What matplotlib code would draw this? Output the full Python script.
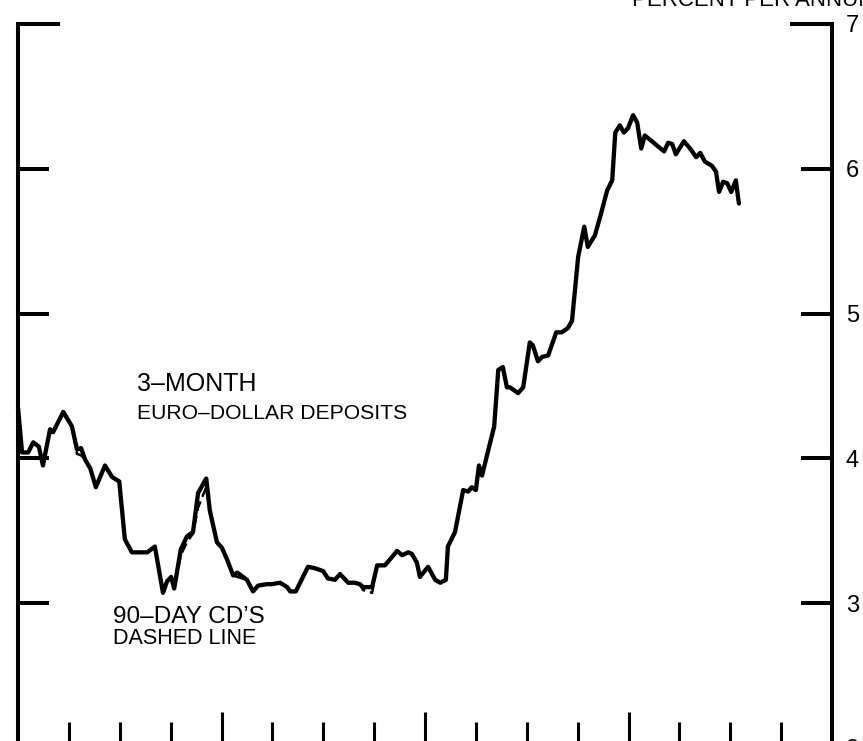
import matplotlib
matplotlib.use('Agg')
import matplotlib.pyplot as plt

plt.rcParams['font.family'] = ['Liberation Sans', 'DejaVu Sans']

# time in quarters since start of 1992 (0 = Jan 1992, 16 = Jan 1996)
euro_q = [0.00, 0.08, 0.20, 0.30, 0.41, 0.49, 0.63, 0.69, 0.89, 1.06, 1.16, 1.24, 1.32, 1.42,
          1.53, 1.71, 1.85, 1.99, 2.10, 2.24, 2.54, 2.69, 2.85, 2.93, 3.01, 3.07, 3.20, 3.32,
          3.44, 3.54, 3.70, 3.77, 3.91, 4.01, 4.11, 4.23, 4.31, 4.50, 4.62, 4.72, 4.89, 4.99,
          5.15, 5.29, 5.35, 5.46, 5.70, 5.84, 6.00, 6.09, 6.23, 6.33, 6.49, 6.62, 6.72, 6.78,
          6.96, 7.06, 7.21, 7.31, 7.45, 7.55, 7.67, 7.74, 7.84, 7.90, 8.06, 8.20, 8.30, 8.41,
          8.45, 8.59, 8.75, 8.85, 8.92, 9.00, 9.06, 9.12, 9.36, 9.44, 9.53, 9.61, 9.67, 9.83,
          9.93, 10.06, 10.12, 10.22, 10.30, 10.42, 10.58, 10.69, 10.81, 10.89, 11.01, 11.13,
          11.20, 11.34, 11.46, 11.58, 11.68, 11.74, 11.83, 11.91, 11.99, 12.09, 12.17, 12.25,
          12.32, 12.46, 12.56, 12.70, 12.78, 12.86, 12.93, 13.09, 13.21, 13.33, 13.41, 13.50,
          13.64, 13.72, 13.78, 13.86, 13.94, 14.02, 14.11, 14.17]
euro_v = [4.35, 4.04, 4.04, 4.11, 4.08, 3.95, 4.20, 4.18, 4.32, 4.22, 4.06, 4.07, 3.99, 3.93,
          3.80, 3.95, 3.87, 3.84, 3.44, 3.35, 3.35, 3.39, 3.07, 3.15, 3.18, 3.10, 3.37, 3.46,
          3.49, 3.76, 3.86, 3.64, 3.42, 3.38, 3.30, 3.19, 3.21, 3.16, 3.08, 3.12, 3.13, 3.13,
          3.14, 3.11, 3.08, 3.08, 3.25, 3.24, 3.22, 3.17, 3.16, 3.20, 3.14, 3.14, 3.13, 3.11,
          3.11, 3.26, 3.26, 3.30, 3.36, 3.33, 3.35, 3.34, 3.28, 3.18, 3.25, 3.16, 3.14, 3.16,
          3.39, 3.49, 3.78, 3.77, 3.80, 3.78, 3.95, 3.88, 4.22, 4.61, 4.63, 4.49, 4.49, 4.45,
          4.49, 4.80, 4.78, 4.67, 4.70, 4.71, 4.87, 4.87, 4.90, 4.95, 5.39, 5.60,
          5.46, 5.54, 5.69, 5.85, 5.92, 6.25, 6.30, 6.25, 6.28, 6.37, 6.32, 6.14,
          6.23, 6.19, 6.16, 6.12, 6.18, 6.17, 6.10, 6.19, 6.14, 6.08, 6.11, 6.05,
          6.02, 5.98, 5.84, 5.91, 5.90, 5.84, 5.92, 5.76]

cd_q = euro_q
cd_v = [4.35, 4.04, 4.04, 4.11, 4.08, 3.95, 4.20, 4.18, 4.32, 4.22, 4.03, 4.02, 3.99, 3.93,
        3.80, 3.95, 3.87, 3.84, 3.44, 3.35, 3.35, 3.39, 3.07, 3.15, 3.18, 3.10, 3.33, 3.42,
        3.48, 3.66, 3.80, 3.63, 3.42, 3.38, 3.30, 3.19, 3.18, 3.16, 3.08, 3.12, 3.13, 3.13,
        3.14, 3.11, 3.08, 3.08, 3.25, 3.24, 3.22, 3.17, 3.16, 3.20, 3.14, 3.14, 3.13, 3.09,
        3.07, 3.26, 3.26, 3.30, 3.36, 3.33, 3.35, 3.34, 3.28, 3.18, 3.25, 3.16, 3.14, 3.16,
        3.39, 3.49, 3.78, 3.77, 3.80, 3.78, 3.95, 3.88, 4.22, 4.61, 4.63, 4.49, 4.49, 4.45,
        4.49, 4.80, 4.78, 4.67, 4.70, 4.71, 4.87, 4.87, 4.90, 4.95, 5.39, 5.60,
        5.46, 5.54, 5.69, 5.85, 5.92, 6.25, 6.30, 6.25, 6.28, 6.37, 6.32, 6.14,
        6.23, 6.19, 6.16, 6.12, 6.18, 6.17, 6.10, 6.19, 6.14, 6.08, 6.11, 6.05,
        6.02, 5.98, 5.84, 5.91, 5.90, 5.84, 5.92, 5.76]

y_major = [2, 3, 4, 5, 6]
y_major_labels = ['2', '3', '4', '5', '6']
y_top = [7]
y_top_labels = ['7']
x_major = [4, 8, 12]
x_minor = [1, 2, 3, 5, 6, 7, 9, 10, 11, 13, 14, 15]

W, H = 863, 741
fig = plt.figure(figsize=(W / 100, H / 100), dpi=100)
ax = fig.add_axes([18 / W, 1 - 747.75 / H, (832 - 18) / W, (747.75 - 24) / H])
ax.set_xlim(0, 16)
ax.set_ylim(2, 7)

ax.plot(cd_q, cd_v, color='black', lw=1.8, ls=(0, (4, 2)), clip_on=False)
ax.plot(euro_q, euro_v, color='black', lw=3.1, solid_joinstyle='round', solid_capstyle='round',
        clip_on=False)

for s in ['top', 'bottom']:
    ax.spines[s].set_visible(False)
for s in ['left', 'right']:
    ax.spines[s].set_linewidth(2.9)

ax.set_yticks(y_major)
ax.set_yticklabels(y_major_labels)
ax.set_yticks(y_top, minor=True)
ax.set_yticklabels(y_top_labels, minor=True)
ax.tick_params(axis='y', which='both', direction='in', left=True, right=True,
               labelleft=False, labelright=True, width=2.9, pad=10, labelsize=17,
               colors='black')
ax.tick_params(axis='y', which='major', length=22)
ax.tick_params(axis='y', which='minor', length=30)

ax.set_xticks(x_major)
ax.set_xticks(x_minor, minor=True)
ax.tick_params(axis='x', which='both', direction='in', bottom=True, top=False,
               labelbottom=False, width=2.2)
ax.tick_params(axis='x', which='major', length=26)
ax.tick_params(axis='x', which='minor', length=18.7)

def px(x, y):
    return x / W, 1 - y / H

fig.text(*px(632, 6), 'PERCENT PER ANNUM', fontsize=16, ha='left', va='baseline')
fig.text(*px(137, 384), '3\u2013MONTH', fontsize=18, ha='left', va='center')
fig.text(*px(137, 413), 'EURO\u2013DOLLAR DEPOSITS', fontsize=15.2, ha='left', va='center')
fig.text(*px(113, 617), '90\u2013DAY CD\u2019S', fontsize=17.5, ha='left', va='center')
fig.text(*px(113, 639), 'DASHED LINE', fontsize=15.5, ha='left', va='center')

fig.savefig('out.png', dpi=100)
